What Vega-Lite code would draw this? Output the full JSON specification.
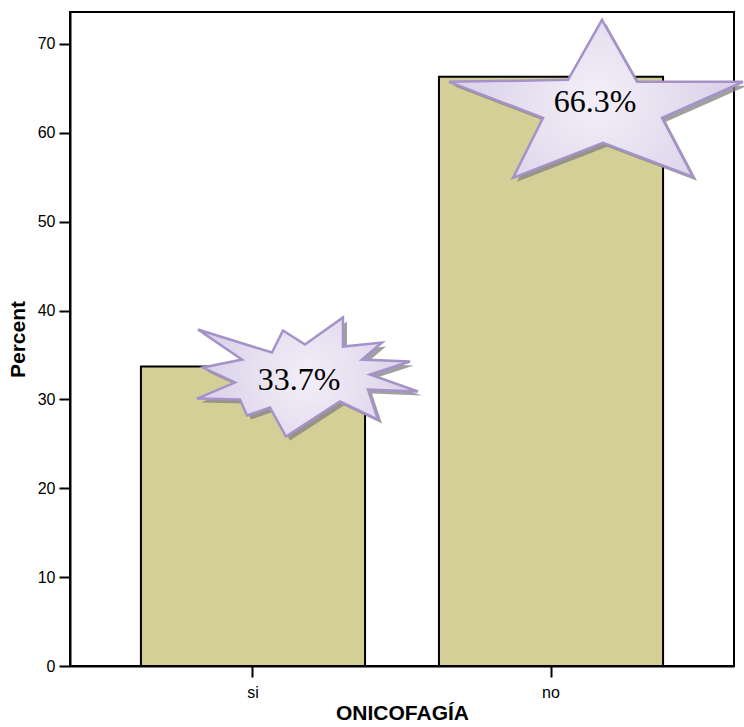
{
  "$schema": "https://vega.github.io/schema/vega-lite/v6.json",
  "autosize": {"type": "none"},
  "padding": {"left": 70, "top": 12, "right": 10, "bottom": 61},
  "width": 664,
  "height": 654,
  "background": "white",
  "data": {"values": [
    {"cat": "si", "pct": 33.7, "label": "33.7%"},
    {"cat": "no", "pct": 66.3, "label": "66.3%"}
  ]},
  "encoding": {
    "x": {"field": "cat", "type": "nominal", "sort": ["si", "no"],
      "scale": {"paddingInner": 0.248, "paddingOuter": 0.238},
      "axis": {"title": "ONICOFAGÍA", "labelAngle": 0, "tickSize": 11, "labelPadding": 7, "titlePadding": 2}},
    "y": {"field": "pct", "type": "quantitative",
      "scale": {"domain": [0, 73.6], "nice": false},
      "axis": {"title": "Percent", "values": [0, 10, 20, 30, 40, 50, 60, 70], "tickSize": 11, "labelPadding": 4, "titlePadding": 9}}
  },
  "layer": [
    {"mark": {"type": "bar", "fill": "#D3CF97", "stroke": "black", "strokeWidth": 2}},
    {"mark": {"type": "point", "filled": true, "size": 40000, "xOffset": 4, "yOffset": 4, "fill": "#808080", "opacity": 0.75, "strokeWidth": 0},
      "encoding": {"shape": {"field": "cat", "type": "nominal", "legend": null,
        "scale": {"domain": ["si", "no"], "range": [
          "M-0.55,-0.37 L0.19,-0.14 L0.30,-0.36 L0.52,-0.22 L0.90,-0.49 L0.90,-0.20 L1.29,-0.24 L1.09,-0.07 L1.57,-0.05 L1.17,0.08 L1.65,0.25 L1.15,0.23 L1.25,0.53 L0.87,0.35 L0.33,0.70 L0.17,0.41 L-0.06,0.49 L-0.13,0.33 L-0.56,0.32 L-0.18,0.16 L-0.50,0.01 L-0.11,-0.07 Z",
          "M0.51,-0.57 L0.86,0.05 L1.92,0.05 L1.11,0.41 L1.42,1.00 L0.52,0.66 L-0.38,1.01 L-0.08,0.41 L-1.02,0.05 L0.17,0.03 Z"]}}}},
    {"mark": {"type": "point", "filled": true, "size": 40000, "opacity": 1,
      "fill": {"gradient": "radial", "x1": 0.5, "y1": 0.5, "r1": 0, "x2": 0.5, "y2": 0.5, "r2": 0.6,
        "stops": [{"offset": 0, "color": "#F3EFF8"}, {"offset": 1, "color": "#D3C9E5"}]},
      "stroke": "#A592C8", "strokeWidth": 2.5, "strokeOpacity": 1},
      "encoding": {"shape": {"field": "cat", "type": "nominal", "legend": null,
        "scale": {"domain": ["si", "no"], "range": [
          "M-0.55,-0.37 L0.19,-0.14 L0.30,-0.36 L0.52,-0.22 L0.90,-0.49 L0.90,-0.20 L1.29,-0.24 L1.09,-0.07 L1.57,-0.05 L1.17,0.08 L1.65,0.25 L1.15,0.23 L1.25,0.53 L0.87,0.35 L0.33,0.70 L0.17,0.41 L-0.06,0.49 L-0.13,0.33 L-0.56,0.32 L-0.18,0.16 L-0.50,0.01 L-0.11,-0.07 Z",
          "M0.51,-0.57 L0.86,0.05 L1.92,0.05 L1.11,0.41 L1.42,1.00 L0.52,0.66 L-0.38,1.01 L-0.08,0.41 L-1.02,0.05 L0.17,0.03 Z"]}}}},
    {"transform": [{"filter": "datum.cat === 'si'"}],
      "mark": {"type": "text", "font": "Liberation Serif", "fontSize": 32, "color": "black", "align": "center", "baseline": "middle", "dx": 46, "dy": 13},
      "encoding": {"text": {"field": "label"}}},
    {"transform": [{"filter": "datum.cat === 'no'"}],
      "mark": {"type": "text", "font": "Liberation Serif", "fontSize": 32, "color": "black", "align": "center", "baseline": "middle", "dx": 44, "dy": 25},
      "encoding": {"text": {"field": "label"}}}
  ],
  "config": {
    "view": {"stroke": "black", "strokeWidth": 2},
    "axis": {"grid": false, "domainColor": "black", "domainWidth": 2, "tickColor": "black", "tickWidth": 2,
      "labelColor": "black", "labelFont": "Liberation Sans", "labelFontSize": 16,
      "titleColor": "black", "titleFont": "Liberation Sans", "titleFontSize": 21, "titleFontWeight": "bold"}
  }
}
